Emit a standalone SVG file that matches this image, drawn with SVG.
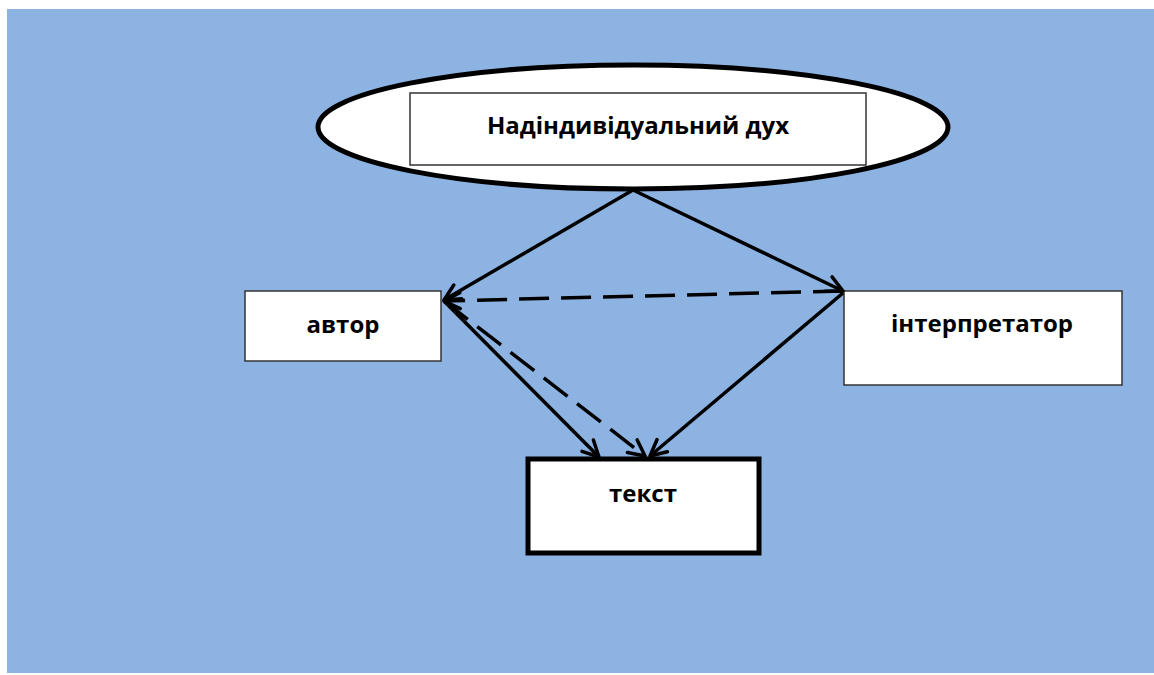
<svg xmlns="http://www.w3.org/2000/svg" width="1154" height="675" viewBox="0 0 1154 675">
<style>
.lbl{font-family:"Open Sans","Noto Sans","Liberation Sans",sans-serif;font-weight:bold;font-size:24px;fill:#000;text-anchor:middle;dominant-baseline:central}
.box{fill:#fff;stroke:#333;stroke-width:1.5}
.con{fill:none;stroke:#000;stroke-width:3.5;marker-end:url(#arr)}
.dash{stroke-dasharray:30 12}
</style>
<defs>
<marker id="arr" viewBox="0 0 20 20" refX="18" refY="10" markerWidth="20" markerHeight="20" markerUnits="userSpaceOnUse" orient="auto">
<polyline points="2,2 18,10 2,18" fill="none" stroke="#000" stroke-width="3.5" stroke-linecap="round" stroke-linejoin="round"/>
</marker>
</defs>
<rect x="7" y="9" width="1147" height="664" fill="#8db3e2"/>
<g id="spirit">
<ellipse cx="633" cy="127" rx="315" ry="62" fill="#fff" stroke="#000" stroke-width="5"/>
<rect class="box" x="410" y="93" width="456" height="72"/>
<text class="lbl" x="638" y="124">Надіндивідуальний дух</text>
</g>
<g id="author">
<rect class="box" x="245" y="291" width="196" height="70"/>
<text class="lbl" x="343" y="323">автор</text>
</g>
<g id="interpreter">
<rect class="box" x="844" y="291" width="278" height="94"/>
<text class="lbl" x="982" y="322">інтерпретатор</text>
</g>
<g id="text">
<rect x="528" y="459" width="231" height="94" fill="#fff" stroke="#000" stroke-width="5"/>
<text class="lbl" x="643" y="492">текст</text>
</g>
<g id="connectors">
<line class="con" x1="633" y1="190" x2="444" y2="300"/>
<line class="con" x1="633" y1="190" x2="843" y2="291"/>
<line class="con dash" x1="843" y1="291" x2="444" y2="301"/>
<line class="con" x1="444" y1="301" x2="599" y2="457"/>
<line class="con dash" x1="444" y1="301" x2="645" y2="456"/>
<line class="con" x1="843" y1="293" x2="650" y2="456"/>
</g>
</svg>
